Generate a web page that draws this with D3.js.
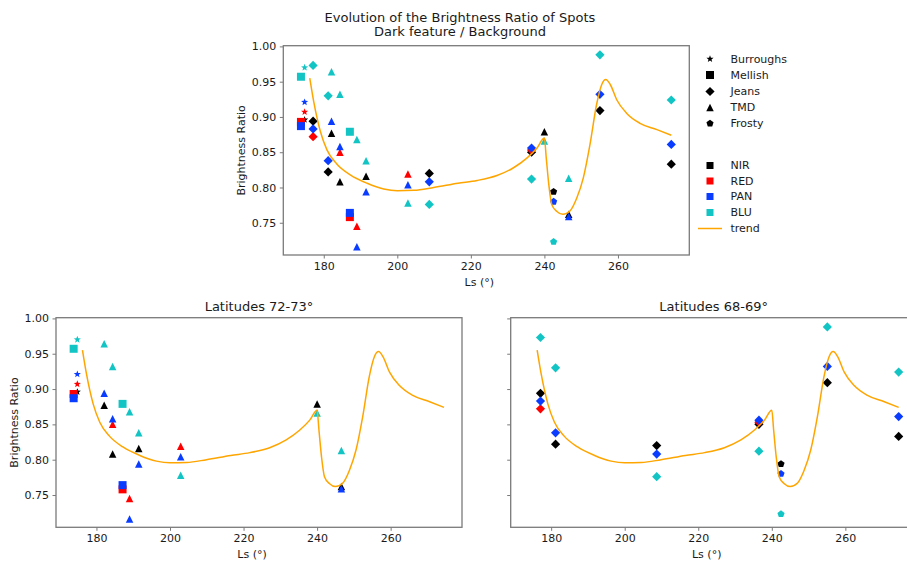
<!DOCTYPE html>
<html><head><meta charset="utf-8">
<script src="https://cdn.jsdelivr.net/npm/d3@7"></script>
<style>body{margin:0;background:#fff}svg{display:block}text{font-family:"DejaVu Sans",sans-serif}</style>
</head><body><svg id="c" width="907" height="562"></svg>
<script>
// ---------- data ----------
const sites = ["Burroughs", "Mellish", "Jeans", "TMD", "Frosty"];
const filters = ["NIR", "RED", "PAN", "BLU"];
const filterColors = ["#000000", "#ff0000", "#0a3cff", "#12c4c4"];
const sites7273 = ["Burroughs", "Mellish", "TMD"];
const sites6869 = ["Jeans", "Frosty"];

const obsSite = [
  "Burroughs","Burroughs","Burroughs","Burroughs",
  "Mellish","Mellish","Mellish","Mellish","Mellish","Mellish",
  "Jeans","Jeans","Jeans","Jeans","Jeans","Jeans","Jeans","Jeans","Jeans","Jeans",
  "Jeans","Jeans","Jeans","Jeans","Jeans","Jeans","Jeans","Jeans","Jeans","Jeans",
  "TMD","TMD","TMD","TMD","TMD","TMD","TMD","TMD","TMD","TMD","TMD","TMD","TMD",
  "TMD","TMD","TMD","TMD","TMD","TMD","TMD","TMD",
  "Frosty","Frosty","Frosty"
];
const obsLs = [
  174.8,174.8,174.8,174.8,
  173.8,173.8,173.8,187.1,187.1,187.1,
  177.1,177.1,177.1,177.1,181.2,181.2,181.2,208.7,208.7,208.7,
  236.5,236.5,236.5,236.5,255.1,255.1,255.1,274.5,274.5,274.5,
  182.1,182.1,182.1,184.4,184.4,184.4,184.4,189.0,189.0,189.0,191.5,191.5,191.5,
  202.9,202.9,202.9,240.0,240.0,246.6,246.6,246.6,
  242.5,242.5,242.5
];
const obsFilter = [
  "NIR","RED","PAN","BLU",
  "RED","PAN","BLU","RED","PAN","BLU",
  "NIR","RED","PAN","BLU","NIR","PAN","BLU","NIR","PAN","BLU",
  "NIR","RED","PAN","BLU","NIR","PAN","BLU","NIR","PAN","BLU",
  "NIR","PAN","BLU","NIR","RED","PAN","BLU","RED","PAN","BLU","NIR","PAN","BLU",
  "RED","PAN","BLU","NIR","BLU","NIR","PAN","BLU",
  "NIR","PAN","BLU"
];
const obsValue = [
  0.896,0.907,0.921,0.970,
  0.893,0.887,0.957,0.758,0.764,0.879,
  0.894,0.872,0.883,0.973,0.822,0.838,0.930,0.820,0.808,0.776,
  0.850,0.853,0.856,0.812,0.909,0.932,0.988,0.833,0.861,0.924,
  0.877,0.894,0.964,0.808,0.850,0.858,0.932,0.745,0.716,0.868,0.816,0.794,0.838,
  0.819,0.804,0.778,0.879,0.866,0.762,0.759,0.813,
  0.794,0.780,0.723
];
// trend curve
const trendLs = [176.2,177.3,179.1,180.9,183.6,187.2,191.8,196.3,200.0,204.5,209.9,216.5,221.7,227.1,231.6,235.3,238.0,240.0,
  240.5,241.2,242.0,243.4,245.0,247.0,248.8,250.6,252.4,254.2,255.6,256.7,257.9,259.7,262.4,266.0,270.6,274.5];
const trendVal = [0.955,0.921,0.879,0.853,0.833,0.818,0.806,0.798,0.7955,0.796,0.800,0.806,0.810,0.817,0.828,0.842,0.856,0.870,
  0.842,0.804,0.776,0.766,0.762,0.767,0.785,0.814,0.861,0.918,0.946,0.953,0.946,0.924,0.905,0.891,0.882,0.874];
const xTicks = [180, 200, 220, 240, 260];
const yTicks = [0.75, 0.80, 0.85, 0.90, 0.95, 1.00];
const xDomain = [169, 279.4];
const yDomain = [0.7043, 1.001];

// ---------- helpers ----------
const obs = obsSite.map((s, i) => ({site: s, ls: obsLs[i], f: obsFilter[i], v: obsValue[i]}));
const trend = trendLs.map((l, i) => ({ls: l, v: trendVal[i]}));
const colorOf = d3.scaleOrdinal(filters, filterColors);

function shapePath(site, s) {
  const h = s / 2;
  if (site === "Mellish") return `M${-h},${-h}H${h}V${h}H${-h}Z`;
  if (site === "Jeans") { const k = h * 1.15; return `M0,${-k}L${k},0L0,${k}L${-k},0Z`; }
  if (site === "TMD") return `M0,${-h}L${h},${h}L${-h},${h}Z`;
  if (site === "Burroughs") {
    const R = h * 1.0, r = R * 0.42; let p = "";
    for (let i = 0; i < 10; i++) {
      const a = -Math.PI / 2 + i * Math.PI / 5, rr = i % 2 ? r : R;
      p += (i ? "L" : "M") + (rr * Math.cos(a)).toFixed(2) + "," + (rr * Math.sin(a)).toFixed(2);
    }
    return p + "Z";
  }
  // Frosty: pentagon
  const R = h * 1.0; let p = "";
  for (let i = 0; i < 5; i++) {
    const a = -Math.PI / 2 + i * 2 * Math.PI / 5;
    p += (i ? "L" : "M") + (R * Math.cos(a)).toFixed(2) + "," + (R * Math.sin(a)).toFixed(2);
  }
  return p + "Z";
}
const markerSize = {Burroughs: 7.5, Mellish: 8, Jeans: 8, TMD: 7.5, Frosty: 7.5};

const svg = d3.select("#c");
const frameColor = "#7a7a7a", textColor = "#1a1a1a";

function panel(x0, x1, y0, y1, siteList, showYLabels, yLabelX, title) {
  const x = d3.scaleLinear(xDomain, [x0, x1]);
  const y = d3.scaleLinear(yDomain, [y1, y0]);
  const g = svg.append("g");
  const xa = g.append("g").attr("transform", `translate(0,${y1})`)
    .call(d3.axisBottom(x).tickValues(xTicks).tickSize(3.5).tickPadding(3.5).tickFormat(d3.format("d")));
  const ya = g.append("g").attr("transform", `translate(${x0},0)`)
    .call(d3.axisLeft(y).tickValues(yTicks).tickSize(3.5).tickPadding(3.5)
      .tickFormat(showYLabels ? d3.format(".2f") : () => ""));
  [xa, ya].forEach(a => {
    a.select(".domain").remove();
    a.selectAll("line").attr("stroke", frameColor).attr("stroke-width", 1);
    a.selectAll("text").attr("fill", textColor).style("font-size", "11px").style("font-family", "DejaVu Sans");
  });
  g.append("rect").attr("x", x0).attr("y", y0).attr("width", x1 - x0).attr("height", y1 - y0)
    .attr("fill", "none").attr("stroke", frameColor).attr("stroke-width", 1.3);
  // points
  const pts = obs.filter(d => siteList.includes(d.site));
  sites.forEach(s => filters.forEach(f => {
    pts.filter(d => d.site === s && d.f === f).forEach(d => {
      g.append("path").attr("d", shapePath(d.site, markerSize[d.site]))
        .attr("transform", `translate(${x(d.ls)},${y(d.v)})`)
        .attr("fill", colorOf(d.f));
    });
  }));
  // trend
  g.append("path").datum(trend)
    .attr("d", d3.line().x(d => x(d.ls)).y(d => y(d.v)).curve(d3.curveMonotoneX))
    .attr("fill", "none").attr("stroke", "#ffa500").attr("stroke-width", 1.5);
  // labels
  g.append("text").attr("x", x(222.3)).attr("y", y1 + 31)
    .attr("text-anchor", "middle").style("font-size", "11px").attr("fill", textColor).text("Ls (°)");
  if (yLabelX !== null)
    g.append("text").attr("transform", `translate(${yLabelX},${(y0 + y1) / 2}) rotate(-90)`)
      .attr("text-anchor", "middle").attr("dy", "0.35em").style("font-size", "11px").attr("fill", textColor)
      .text("Brightness Ratio");
  if (title)
    g.append("text").attr("x", (x0 + x1) / 2).attr("y", y0 - 7).attr("text-anchor", "middle")
      .style("font-size", "13px").attr("fill", textColor).text(title);
  return {x, y};
}

panel(283.3, 689.3, 45.7, 255, sites, true, 241.5, null);
panel(56, 462, 317.7, 527.3, sites7273, true, 14, "Latitudes 72-73°");
panel(510.7, 916.7, 317.7, 527.3, sites6869, false, null, "Latitudes 68-69°");

// suptitle
svg.append("text").attr("x", 460).attr("y", 21.8).attr("text-anchor", "middle")
  .style("font-size", "13px").attr("fill", textColor).text("Evolution of the Brightness Ratio of Spots");
svg.append("text").attr("x", 460).attr("y", 35.5).attr("text-anchor", "middle")
  .style("font-size", "13px").attr("fill", textColor).text("Dark feature / Background");

// legend
const leg = svg.append("g");
const legY = [59, 75, 91.5, 107.5, 123.5];
sites.forEach((s, i) => {
  leg.append("path").attr("d", shapePath(s, markerSize[s])).attr("transform", `translate(710,${legY[i]})`).attr("fill", "#000");
  leg.append("text").attr("x", 730.5).attr("y", legY[i]).attr("dy", "0.35em").style("font-size", "11px").attr("fill", textColor).text(s);
});
const legFY = [165.5, 181, 196.5, 212.5];
filters.forEach((f, i) => {
  leg.append("rect").attr("x", 706.5).attr("y", legFY[i] - 3.5).attr("width", 7).attr("height", 7).attr("fill", colorOf(f));
  leg.append("text").attr("x", 730.5).attr("y", legFY[i]).attr("dy", "0.35em").style("font-size", "11px").attr("fill", textColor).text(f);
});
leg.append("line").attr("x1", 698).attr("x2", 722).attr("y1", 228.5).attr("y2", 228.5).attr("stroke", "#ffa500").attr("stroke-width", 1.5);
leg.append("text").attr("x", 730.5).attr("y", 228.5).attr("dy", "0.35em").style("font-size", "11px").attr("fill", textColor).text("trend");
</script></body></html>
